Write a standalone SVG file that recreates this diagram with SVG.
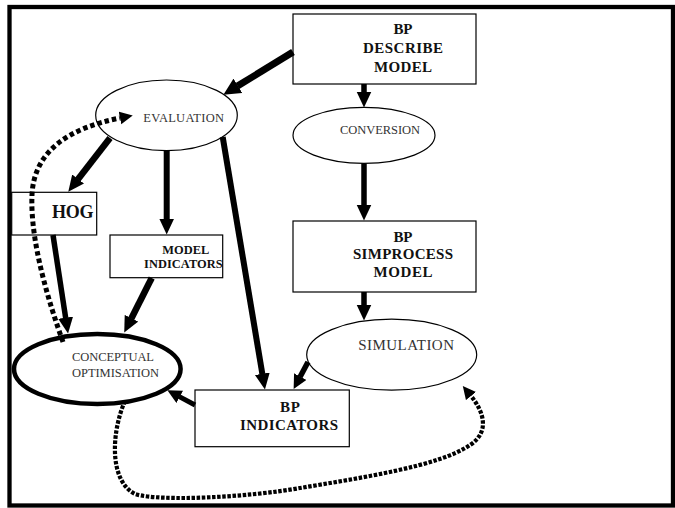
<svg xmlns="http://www.w3.org/2000/svg" width="675" height="508" viewBox="0 0 675 508">
<style>
.box{fill:#fff;stroke:#000;stroke-width:1.2}
.ell{fill:#fff;stroke:#000;stroke-width:1.2}
.b{font-family:"Liberation Serif","Times New Roman",serif;font-weight:bold;fill:#111}
.r{font-family:"Liberation Serif","Times New Roman",serif;fill:#333}
.ln{fill:none;stroke:#000;stroke-linecap:butt}
.dash1{fill:none;stroke:#000;stroke-width:5;stroke-dasharray:4.5 3}
.dash2{fill:none;stroke:#000;stroke-width:4.2;stroke-dasharray:3.5 1.6}
.head{fill:#000;stroke:none}
</style>
<defs>
<marker id="aL" markerUnits="userSpaceOnUse" markerWidth="17" markerHeight="17" refX="0.5" refY="8.5" orient="auto"><path class="head" d="M0,0 L17,8.5 L0,17 z"/></marker>
<marker id="aM" markerUnits="userSpaceOnUse" markerWidth="16" markerHeight="16" refX="0.5" refY="7.5" orient="auto"><path class="head" d="M0,0 L16,7.5 L0,15 z"/></marker>
<marker id="aS" markerUnits="userSpaceOnUse" markerWidth="14" markerHeight="14" refX="0.5" refY="7" orient="auto"><path class="head" d="M0,0 L14,7 L0,14 z"/></marker>
<marker id="aD" markerUnits="userSpaceOnUse" markerWidth="14" markerHeight="14" refX="0" refY="6.5" orient="auto"><path class="head" d="M0,0 L13,6.5 L0,13 z"/></marker>
</defs>
<rect x="0" y="0" width="675" height="508" fill="#fff"/>
<rect x="9.5" y="7" width="663.5" height="498.5" fill="none" stroke="#000" stroke-width="4.3"/>

<g id="n-describe">
<rect class="box" x="293" y="14" width="183" height="70"/>
<text class="b" font-size="15" x="403" y="34.3" text-anchor="middle" textLength="19">BP</text>
<text class="b" font-size="15" x="403" y="53.3" text-anchor="middle" textLength="80">DESCRIBE</text>
<text class="b" font-size="15" x="403" y="71.7" text-anchor="middle" textLength="58">MODEL</text>
</g>
<g id="n-conversion">
<ellipse class="ell" cx="364" cy="135.3" rx="71" ry="28"/>
<text class="r" font-size="12.5" x="340" y="134" textLength="80">CONVERSION</text>
</g>
<g id="n-simprocess">
<rect class="box" x="293" y="221" width="183" height="71"/>
<text class="b" font-size="15" x="403" y="241.7" text-anchor="middle" textLength="19">BP</text>
<text class="b" font-size="15" x="403" y="259.3" text-anchor="middle" textLength="100">SIMPROCESS</text>
<text class="b" font-size="15" x="403" y="276.7" text-anchor="middle" textLength="59">MODEL</text>
</g>
<g id="n-simulation">
<ellipse class="ell" cx="391.7" cy="354.7" rx="85" ry="35.5"/>
<text class="r" font-size="15" x="358.3" y="350" textLength="95.7">SIMULATION</text>
</g>
<g id="n-bpindicators">
<rect class="box" x="195" y="390" width="154.3" height="56.7"/>
<text class="b" font-size="15" x="290" y="411.7" text-anchor="middle" textLength="20">BP</text>
<text class="b" font-size="15" x="289" y="430" text-anchor="middle" textLength="98">INDICATORS</text>
</g>
<g id="n-evaluation">
<ellipse class="ell" cx="166.5" cy="115.3" rx="70.8" ry="35.3"/>
<text class="r" font-size="12.5" x="143.3" y="121.7" textLength="80.7">EVALUATION</text>
</g>
<g id="n-hog">
<rect class="box" x="11.7" y="192.3" width="85" height="42.7"/>
<text class="b" font-size="18" x="52" y="218.3" textLength="41.6">HOG</text>
</g>
<g id="n-modelindicators">
<rect class="box" x="110" y="235" width="112.7" height="42.7"/>
<text class="b" font-size="12.4" x="162.3" y="254" textLength="47">MODEL</text>
<text class="b" font-size="12.4" x="144" y="268.3" textLength="78.7">INDICATORS</text>
</g>
<g id="n-conceptual">
<ellipse cx="97.3" cy="369" rx="83.3" ry="35" fill="#fff" stroke="#000" stroke-width="4.5"/>
<text class="r" font-size="12.5" x="72" y="360.7" textLength="82">CONCEPTUAL</text>
<text class="r" font-size="12.5" x="72" y="377.3" textLength="87">OPTIMISATION</text>
</g>

<g id="connectors">
<line class="ln" stroke-width="7" x1="293" y1="52" x2="237.5" y2="86.1" marker-end="url(#aL)"/>
<line class="ln" stroke-width="6.5" x1="110" y1="138" x2="77.8" y2="179.4" marker-end="url(#aM)"/>
<line class="ln" stroke-width="6" x1="166.7" y1="151" x2="166.7" y2="219" marker-end="url(#aM)"/>
<line class="ln" stroke-width="5.5" x1="364" y1="84" x2="364" y2="92" marker-end="url(#aM)"/>
<line class="ln" stroke-width="5.5" x1="364" y1="163.5" x2="364" y2="205" marker-end="url(#aM)"/>
<line class="ln" stroke-width="5.5" x1="364" y1="292" x2="364" y2="305" marker-end="url(#aM)"/>
<line class="ln" stroke-width="5.5" x1="308" y1="362" x2="300" y2="377" marker-end="url(#aS)"/>
<line class="ln" stroke-width="6" x1="222.7" y1="137" x2="262.4" y2="374.2" marker-end="url(#aM)"/>
<line class="ln" stroke-width="5.5" x1="53" y1="235" x2="65.7" y2="318.2" marker-end="url(#aM)"/>
<line class="ln" stroke-width="6.5" x1="151.7" y1="278" x2="131.2" y2="318.7" marker-end="url(#aM)"/>
<line class="ln" stroke-width="5" x1="195" y1="405" x2="179.3" y2="396.6" marker-end="url(#aS)"/>
<path class="dash1" d="M63,342 C48,300 30,240 32,195 C34,150 70,128 120,118" marker-end="url(#aD)"/>
<path class="dash2" d="M125,401 C112,430 108,480 135,494 C160,502 250,497 300,488 C360,478 440,466 470,445 C490,432 484,412 471,396" marker-end="url(#aD)"/>
</g>
</svg>
